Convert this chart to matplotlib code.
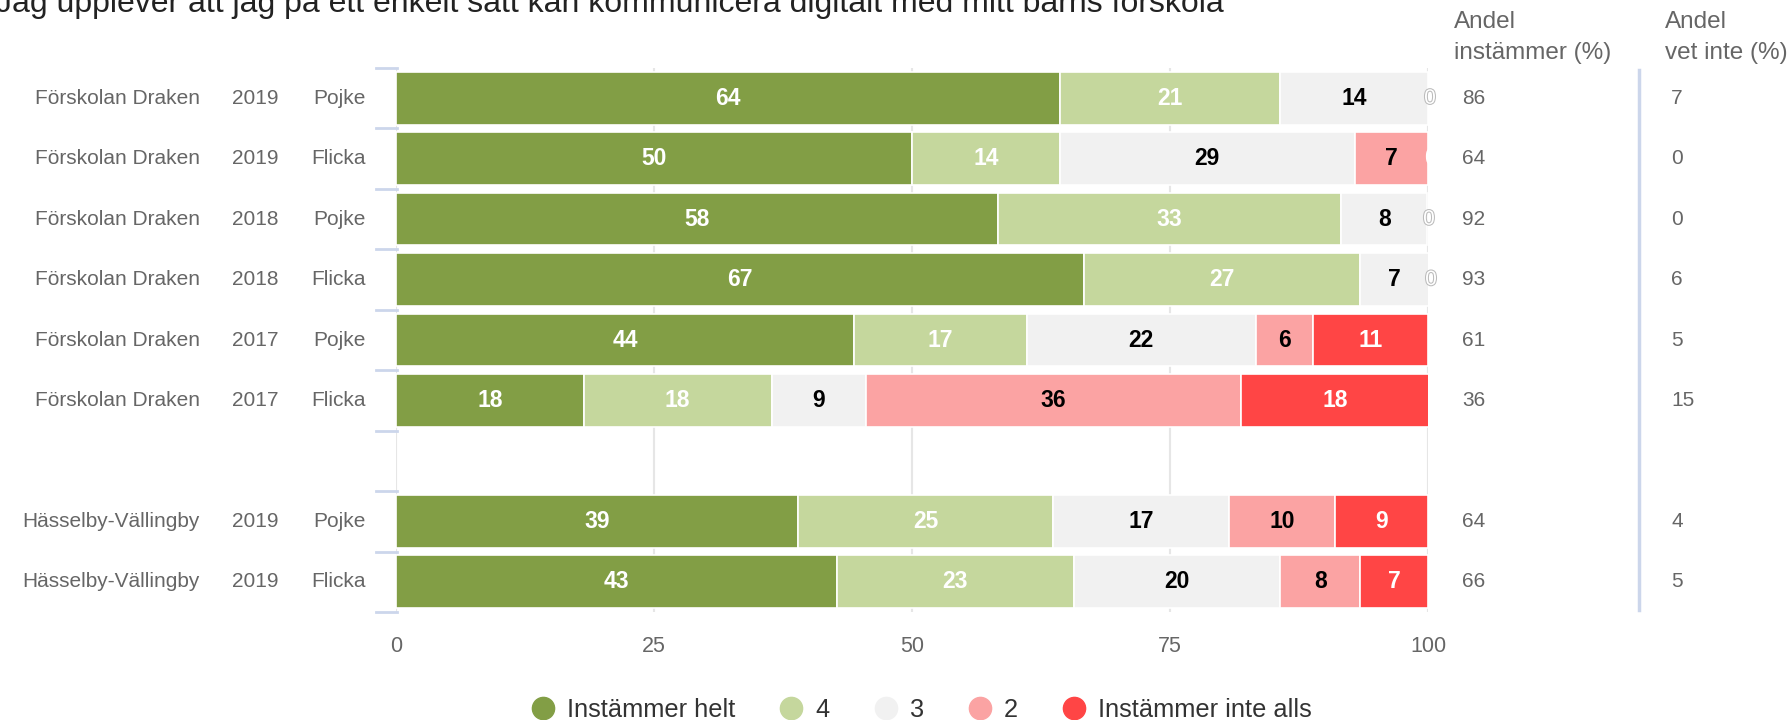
import matplotlib.pyplot as plt
import matplotlib.patheffects as pe
from matplotlib.lines import Line2D
from matplotlib.transforms import blended_transform_factory

plt.rcParams['font.family'] = ['Liberation Sans', 'DejaVu Sans']

title = "Jag upplever att jag på ett enkelt sätt kan kommunicera digitalt med mitt barns förskola"
units = ["Förskolan Draken"] * 6 + [""] + ["Hässelby-Vällingby"] * 2
years = ["2019", "2019", "2018", "2018", "2017", "2017", "", "2019", "2019"]
genders = ["Pojke", "Flicka", "Pojke", "Flicka", "Pojke", "Flicka", "", "Pojke", "Flicka"]

categories = ["Instämmer helt", "4", "3", "2", "Instämmer inte alls"]
colors = ["#829e45", "#c5d79d", "#f1f1f1", "#fba3a3", "#ff4545"]
label_colors = ["white", "white", "black", "black", "white"]

# share per answer (%), row 6 is the empty spacer between the groups
helt = [64.3, 50.0, 58.3, 66.7, 44.4, 18.2, None, 39.0, 42.7]
fyra = [21.4, 14.3, 33.3, 26.7, 16.7, 18.2, None, 24.7, 23.0]
tre = [14.3, 28.6, 8.3, 6.7, 22.2, 9.1, None, 17.0, 20.0]
tva = [0.0, 7.1, 0.0, 0.0, 5.6, 36.4, None, 10.3, 7.7]
inte_alls = [0.0, 0.0, 0.0, 0.0, 11.1, 18.2, None, 9.0, 6.6]
series = [helt, fyra, tre, tva, inte_alls]

andel_instammer = [86, 64, 92, 93, 61, 36, None, 64, 66]
andel_vet_inte = [7, 0, 0, 6, 5, 15, None, 4, 5]

W, H = 1791, 720
fig = plt.figure(figsize=(W / 100, H / 100), dpi=100)
ax = fig.add_axes([396 / W, 1 - 612 / H, 1032 / W, 544 / H])

rows = range(len(units))
for i in rows:
    if helt[i] is None:
        continue
    left = 0.0
    zero_drawn = False
    for k, s in enumerate(series):
        v = s[i]
        if v > 0:
            ax.barh(i, v, left=left, height=0.87, color=colors[k],
                    edgecolor="white", linewidth=1.2, zorder=2)
            ax.text(left + v / 2, i, f"{v:.0f}", ha="center", va="center",
                    fontsize=16.5, fontweight="bold", color=label_colors[k], zorder=3)
        elif not zero_drawn:
            if k == 4:
                ax.text(left + 0.2, i, "0", ha="center", va="center", fontsize=16.5,
                        fontweight="bold", color="white", zorder=3, clip_on=False)
            else:
                ax.text(left + 0.2, i, "0", ha="center", va="center", fontsize=15,
                        color="white", zorder=3, clip_on=False,
                        path_effects=[pe.withStroke(linewidth=1.5, foreground="#bbbbbb")])
            zero_drawn = True
        left += v

ax.set_xlim(0, 100)
ax.set_ylim(len(units) - 0.5, -0.5)
ax.set_xticks([0, 25, 50, 75, 100])
ax.set_yticks([])
ax.grid(axis="x", color="#e6e6e6", linewidth=1.5, zorder=0)
ax.set_axisbelow(True)
for sp in ax.spines.values():
    sp.set_visible(False)
ax.tick_params(axis="x", length=0, labelsize=15.5, labelcolor="#666666", pad=17)

# row labels and category ticks on the left
tr = blended_transform_factory(fig.transFigure, ax.transData)
for i in rows:
    ax.text(200 / W, i, units[i], transform=tr, ha="right", va="center",
            fontsize=15, color="#666666")
    ax.text(255 / W, i, years[i], transform=tr, ha="center", va="center",
            fontsize=15, color="#666666")
    ax.text(366 / W, i, genders[i], transform=tr, ha="right", va="center",
            fontsize=15, color="#666666")
    if andel_instammer[i] is not None:
        ax.text(1462 / W, i, str(andel_instammer[i]), transform=tr, ha="left",
                va="center", fontsize=15, color="#666666")
        ax.text(1671 / W, i, str(andel_vet_inte[i]), transform=tr, ha="left",
                va="center", fontsize=15, color="#666666")
for b in range(len(units) + 1):
    fig.add_artist(Line2D([376 / W, 397 / W], [b - 0.5, b - 0.5], transform=tr,
                          color="#ccd6eb", linewidth=2))

# column headers and separator
hdr = dict(ha="left", va="center", fontsize=17.5, color="#666666")
fig.text(1454 / W, 1 - 22 / H, "Andel", **hdr)
fig.text(1454 / W, 1 - 53 / H, "instämmer (%)", **hdr)
fig.text(1665 / W, 1 - 22 / H, "Andel", **hdr)
fig.text(1665 / W, 1 - 53 / H, "vet inte (%)", **hdr)
fig.add_artist(Line2D([1639 / W, 1639 / W], [1 - 70 / H, 1 - 610 / H],
                      transform=fig.transFigure, color="#ccd6eb", linewidth=2.5))

fig.text(-4 / W, 1 - 12 / H, title, ha="left", va="baseline", fontsize=23, color="#222222")

handles = [Line2D([], [], marker="o", linestyle="", markersize=16,
                  markerfacecolor=c, markeredgecolor=c) for c in colors]
fig.legend(handles, categories, loc="center", bbox_to_anchor=(921 / W, 10 / H),
           ncol=5, frameon=False, fontsize=18.3, labelcolor="#333333",
           handletextpad=0.45, columnspacing=1.7, handlelength=1.0)

fig.savefig("out.png", dpi=100)
